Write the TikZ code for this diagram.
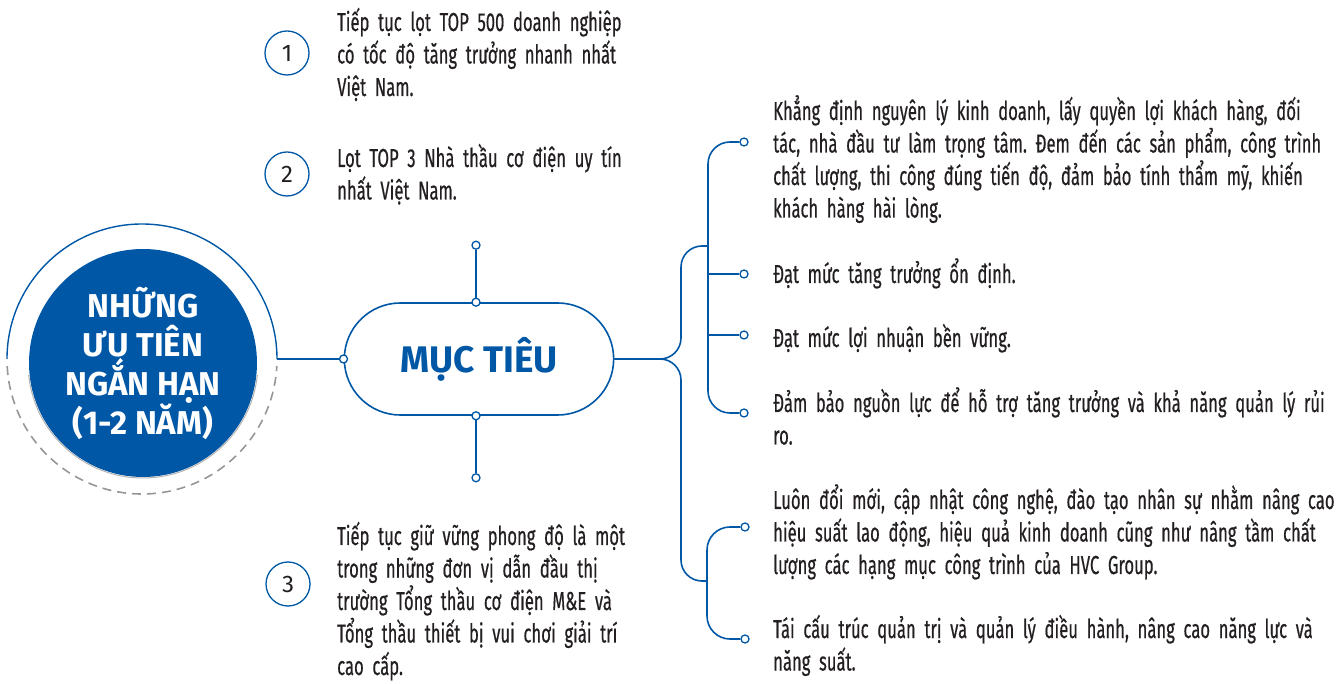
\documentclass[tikz,border=0pt]{standalone}
\usepackage{fontspec}
\setmainfont{Fira Sans}[FakeStretch=0.64,WordSpace=0.7,FakeBold=0.5]
\newfontfamily\headfont{Fira Sans}
\usetikzlibrary{shapes.misc,positioning}
\definecolor{hvcblue}{RGB}{0,87,166}
\definecolor{ringgray}{RGB}{150,150,150}
\definecolor{textgray}{RGB}{35,31,32}
\newcommand{\jl}[1]{\makebox[\linewidth][s]{#1}\\}
\frenchspacing
\tikzset{
	core/.style={
		circle,
		fill=hvcblue,
		text=white,
		minimum size=228pt,
		inner sep=0pt,
		align=center,
		font=\headfont\bfseries\fontsize{33}{39}\selectfont
	},
	goal/.style={
		rounded rectangle,
		draw=hvcblue,
		line width=1.6pt,
		minimum width=276pt,
		minimum height=112pt,
		text=hvcblue,
		font=\headfont\bfseries\fontsize{37}{40}\selectfont
	},
	dot/.style={
		circle,
		draw=hvcblue,
		fill=white,
		line width=1.3pt,
		inner sep=0pt,
		minimum size=8pt
	},
	link/.style={
		draw=hvcblue,
		line width=1.6pt
	},
	num/.style={
		circle,
		draw=hvcblue,
		line width=1.3pt,
		minimum size=44pt,
		inner sep=0pt,
		text=textgray,
		font=\headfont\fontsize{24}{24}\selectfont
	},
	item/.style={
		anchor=base west,
		inner sep=0pt,
		text width=550pt,
		align=left,
		text=textgray,
		font=\fontsize{26}{32.5}\selectfont
	},
	note/.style={
		item,
		text width=288pt
	},
}

\begin{document}
\begin{tikzpicture}[x=1pt,y=1pt]
\useasboundingbox (0,0) rectangle (1344,683);
% left circle with its ring
\coordinate (ringC) at (142,324);
\coordinate (ringE) at ([shift={(0:135)}]ringC);
\node [core] (core) at (143,320) {NHỮNG\\ƯU TIÊN\\NGẮN HẠN\\(1-2 NĂM)};
\draw [hvcblue,line width=1.4pt] (ringE) arc (0:180:135);
\draw [ringgray,line width=1.6pt,dash pattern=on 9pt off 6pt] ([shift={(183:135)}]ringC) arc (183:357:135);
\draw [gray!60,line width=1pt] ([shift={(186:115)}]core.center) arc (186:354:115);

% centre goal
\node [goal] (goal) at (479,324) {MỤC TIÊU};
\node [dot] (gW) at (goal.west) {};
\node [dot] (gN) at ([xshift=-3pt]goal.north) {};
\node [dot] (gS) at ([xshift=-3pt]goal.south) {};
\node [dot] (tN) at ([yshift=57pt]gN) {};
\node [dot] (tS) at ([yshift=-62pt]gS) {};
\draw [link] (ringE) -- (gW);
\draw [link] (gN) -- (tN);
\draw [link] (gS) -- (tS);

% right branches
\coordinate (trunk) at (681,324);
\coordinate (upJ) at (708,437);
\coordinate (loJ) at (707,102);
\node [dot] (d1) at (744,541) {};
\node [dot] (d2) at (744,409) {};
\node [dot] (d3) at (744,348) {};
\node [dot] (d4) at (744,270) {};
\node [dot] (d5) at (745,156) {};
\node [dot] (d6) at (745,44) {};
\draw [link,rounded corners=21pt] (goal.east) -- (trunk) |- (upJ);
\draw [link,rounded corners=21pt] (goal.east) -- (trunk) |- (loJ);
\draw [link,rounded corners=22pt] (d1) -| (upJ) |- (d4);
\draw [link] (d2) -- (d2 -| upJ);
\draw [link] (d3) -- (d3 -| upJ);
\draw [link,rounded corners=23pt] (d5) -| (loJ) |- (d6);

\node [item] (tA) at (773,563) {\jl{Khẳng định nguyên lý kinh doanh, lấy quyền lợi khách hàng, đối}\jl{tác, nhà đầu tư làm trọng tâm. Đem đến các sản phẩm, công trình}\jl{chất lượng, thi công đúng tiến độ, đảm bảo tính thẩm mỹ, khiến}khách hàng hài lòng.};
\node [item] (tB) at (773,400) {Đạt mức tăng trưởng ổn định.};
\node [item] (tC) at (773,336) {Đạt mức lợi nhuận bền vững.};
\node [item] (tD) at (773,271) {\mbox{Đảm bảo nguồn lực để hỗ trợ tăng trưởng và khả năng quản lý rủi}\\ro.};
\node [item] (tE) at (773,174) {\jl{Luôn đổi mới, cập nhật công nghệ, đào tạo nhân sự nhằm nâng cao}\jl{hiệu suất lao động, hiệu quả kinh doanh cũng như nâng tầm chất}lượng các hạng mục công trình của HVC Group.};
\node [item] (tF) at (773,45) {\jl{Tái cấu trúc quản trị và quản lý điều hành, nâng cao năng lực và}năng suất.};

% left list
\node [num] (n1) at (287,630) {1};
\node [num] (n2) at (287,509) {2};
\node [num] (n3) at (288,99) {3};
\node [note] (l1) at (337,652) {\jl{Tiếp tục lọt TOP 500 doanh nghiệp}\jl{có tốc độ tăng trưởng nhanh nhất}Việt Nam.};
\node [note] (l2) at (337,516) {\jl{Lọt TOP 3 Nhà thầu cơ điện uy tín}nhất Việt Nam.};
\node [note] (l3) at (337,138) {\jl{Tiếp tục giữ vững phong độ là một}\jl{trong những đơn vị dẫn đầu thị}\jl{trường Tổng thầu cơ điện M\&E và}\jl{Tổng thầu thiết bị vui chơi giải trí}cao cấp.};
\end{tikzpicture}
\end{document}
